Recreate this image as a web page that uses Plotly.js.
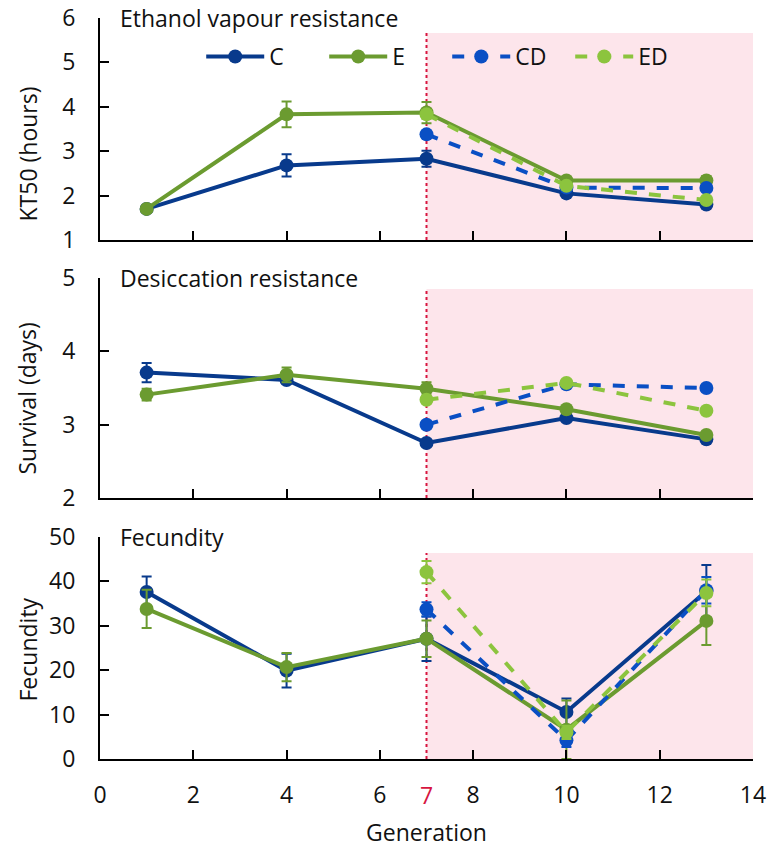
<!DOCTYPE html>
<html>
<head>
<meta charset="utf-8">
<script src="https://cdn.plot.ly/plotly-3.0.1.min.js"></script>
<style>html,body{margin:0;padding:0;background:#fff;}#chart{width:767px;height:848px;}</style>
</head>
<body>
<div id="chart"></div>
<script>
// ---- data ----
const generations = [1, 4, 7, 10, 13];
const generationsD = [7, 10, 13];

const ethanolC = [1.70, 2.68, 2.83, 2.05, 1.80];
const ethanolCErr = [0.04, 0.25, 0.18, 0.05, 0.07];
const ethanolE = [1.70, 3.83, 3.87, 2.34, 2.34];
const ethanolEErr = [0.04, 0.29, 0.24, 0.05, 0.10];
const ethanolCD = [3.38, 2.18, 2.17];
const ethanolCDErr = [0.08, 0.05, 0.06];
const ethanolED = [3.83, 2.22, 1.90];
const ethanolEDErr = [0.10, 0.05, 0.06];

const desiccC = [3.71, 3.61, 2.75, 3.09, 2.80];
const desiccCErr = [0.13, 0.05, 0.04, 0.04, 0.04];
const desiccE = [3.41, 3.68, 3.49, 3.21, 2.86];
const desiccEErr = [0.08, 0.10, 0.09, 0.04, 0.04];
const desiccCD = [3.00, 3.55, 3.50];
const desiccCDErr = [0.04, 0.04, 0.04];
const desiccED = [3.34, 3.57, 3.19];
const desiccEDErr = [0.04, 0.04, 0.04];

const fecC = [37.6, 19.9, 27.1, 10.6, 37.8];
const fecCErr = [3.5, 3.8, 5.0, 3.0, 5.9];
const fecE = [33.8, 20.7, 27.1, 6.6, 31.1];
const fecEErr = [4.3, 3.2, 4.1, 6.6, 5.4];
const fecCD = [33.7, 4.2, 38.0];
const fecCDErr = [1.6, 1.5, 3.0];
const fecED = [42.1, 6.0, 37.4];
const fecEDErr = [2.5, 1.5, 3.0];

const seriesNames = ['C', 'E', 'CD', 'ED'];
const panelTitles = ['Ethanol vapour resistance', 'Desiccation resistance', 'Fecundity'];
const yTitles = ['KT50 (hours)', 'Survival (days)', 'Fecundity'];
const xTickVals = [0, 2, 4, 6, 8, 10, 12, 14];

// ---- styles ----
const colors = {C: '#083a8c', E: '#6b9b30', CD: '#0a4fc4', ED: '#8cc43e'};
const dashes = {C: 'solid', E: 'solid', CD: 'dash', ED: 'dash'};
const FONT = 'Open Sans, Noto Sans, sans-serif';
const TXT = '#111';

function tr(name, x, y, err, xa, ya, showLegend) {
  return {
    type: 'scatter', mode: 'lines+markers', name: name,
    x: x, y: y, xaxis: xa, yaxis: ya, showlegend: showLegend,
    line: {color: colors[name], width: 4, dash: dashes[name]},
    marker: {color: colors[name], size: 14},
    error_y: {type: 'data', array: err, visible: true, color: colors[name], thickness: 2, width: 5},
    cliponaxis: false
  };
}

const data = [
  tr('C', generations, ethanolC, ethanolCErr, 'x', 'y', true),
  tr('E', generations, ethanolE, ethanolEErr, 'x', 'y', true),
  tr('CD', generationsD, ethanolCD, ethanolCDErr, 'x', 'y', true),
  tr('ED', generationsD, ethanolED, ethanolEDErr, 'x', 'y', true),
  tr('C', generations, desiccC, desiccCErr, 'x2', 'y2', false),
  tr('E', generations, desiccE, desiccEErr, 'x2', 'y2', false),
  tr('CD', generationsD, desiccCD, desiccCDErr, 'x2', 'y2', false),
  tr('ED', generationsD, desiccED, desiccEDErr, 'x2', 'y2', false),
  tr('C', generations, fecC, fecCErr, 'x3', 'y3', false),
  tr('E', generations, fecE, fecEErr, 'x3', 'y3', false),
  tr('CD', generationsD, fecCD, fecCDErr, 'x3', 'y3', false),
  tr('ED', generationsD, fecED, fecEDErr, 'x3', 'y3', false)
];

const tickFont = {family: FONT, size: 23, color: TXT};
function xaxisDef(anchor, labels) {
  return {
    anchor: anchor, range: [0, 14], tickvals: xTickVals, showticklabels: labels,
    ticks: 'inside', ticklen: 9, tickwidth: 2, tickcolor: '#000',
    showline: true, linecolor: '#000', linewidth: 2, showgrid: false, zeroline: false,
    tickfont: tickFont, ticklabelstandoff: 14
  };
}
function yaxisDef(domain, range, dtick) {
  return {
    domain: domain, range: range, dtick: dtick,
    ticks: 'inside', ticklen: 9, tickwidth: 2, tickcolor: '#000',
    showline: true, linecolor: '#000', linewidth: 2, showgrid: false, zeroline: false,
    tickfont: tickFont, ticklabelstandoff: 18
  };
}

const pink = '#fde5eb';
const red = '#d7153f';
const shadeTops = [5.66, 4.85, 46.4];
const shadeBottoms = [1, 2, 0];
const axPairs = [['x', 'y'], ['x2', 'y2'], ['x3', 'y3']];
const shapes = [];
axPairs.forEach((p, i) => {
  shapes.push({type: 'rect', layer: 'below', xref: p[0], yref: p[1], x0: 7, x1: 14,
    y0: shadeBottoms[i], y1: shadeTops[i], fillcolor: pink, line: {width: 0}});
  shapes.push({type: 'line', layer: 'below', xref: p[0], yref: p[1], x0: 7, x1: 7,
    y0: shadeBottoms[i], y1: shadeTops[i], line: {color: red, width: 2, dash: 'dot'}});
});

const domains = [[0.7004, 1], [0.3522, 0.6491], [0, 0.2996]];
const yTitleCenters = [0.8165, 0.4858, 0.1471];
const annotations = panelTitles.map((t, i) => ({
  text: t, xref: 'paper', yref: 'paper', x: 0.028, y: domains[i][1],
  xanchor: 'left', yanchor: 'middle', showarrow: false,
  font: {family: FONT, size: 23, color: TXT}
}));
yTitles.forEach((t, i) => annotations.push({
  text: t, xref: 'paper', yref: 'paper', x: -0.111, y: yTitleCenters[i],
  xanchor: 'center', yanchor: 'middle', textangle: -90, showarrow: false,
  font: {family: FONT, size: 23, color: TXT}
}));
annotations.push({text: '7', xref: 'x3', yref: 'paper', x: 7, y: -0.0485,
  xanchor: 'center', yanchor: 'middle', showarrow: false,
  font: {family: FONT, size: 23, color: red}});

const layout = {
  width: 767, height: 848,
  margin: {l: 100, r: 14, t: 18, b: 89},
  paper_bgcolor: '#fff', plot_bgcolor: 'rgba(0,0,0,0)',
  font: {family: FONT, color: TXT},
  showlegend: true,
  legend: {orientation: 'h', x: 0.155, y: 0.948, xanchor: 'left', yanchor: 'middle',
    font: {family: FONT, size: 23, color: TXT}, bgcolor: 'rgba(0,0,0,0)',
    entrywidth: 50, itemwidth: 58, tracegroupgap: 0},
  xaxis: xaxisDef('y', false),
  xaxis2: Object.assign(xaxisDef('y2', false), {matches: 'x'}),
  xaxis3: Object.assign(xaxisDef('y3', true), {
    title: {text: 'Generation', font: {family: FONT, size: 23, color: TXT}, standoff: 16}}),
  yaxis: Object.assign(yaxisDef(domains[0], [1, 6], 1), {anchor: 'x'}),
  yaxis2: Object.assign(yaxisDef(domains[1], [2, 5], 1), {anchor: 'x2'}),
  yaxis3: Object.assign(yaxisDef(domains[2], [0, 50], 10), {anchor: 'x3'}),
  shapes: shapes,
  annotations: annotations
};

Plotly.newPlot('chart', data, layout, {displayModeBar: false, staticPlot: true});
</script>
</body>
</html>
